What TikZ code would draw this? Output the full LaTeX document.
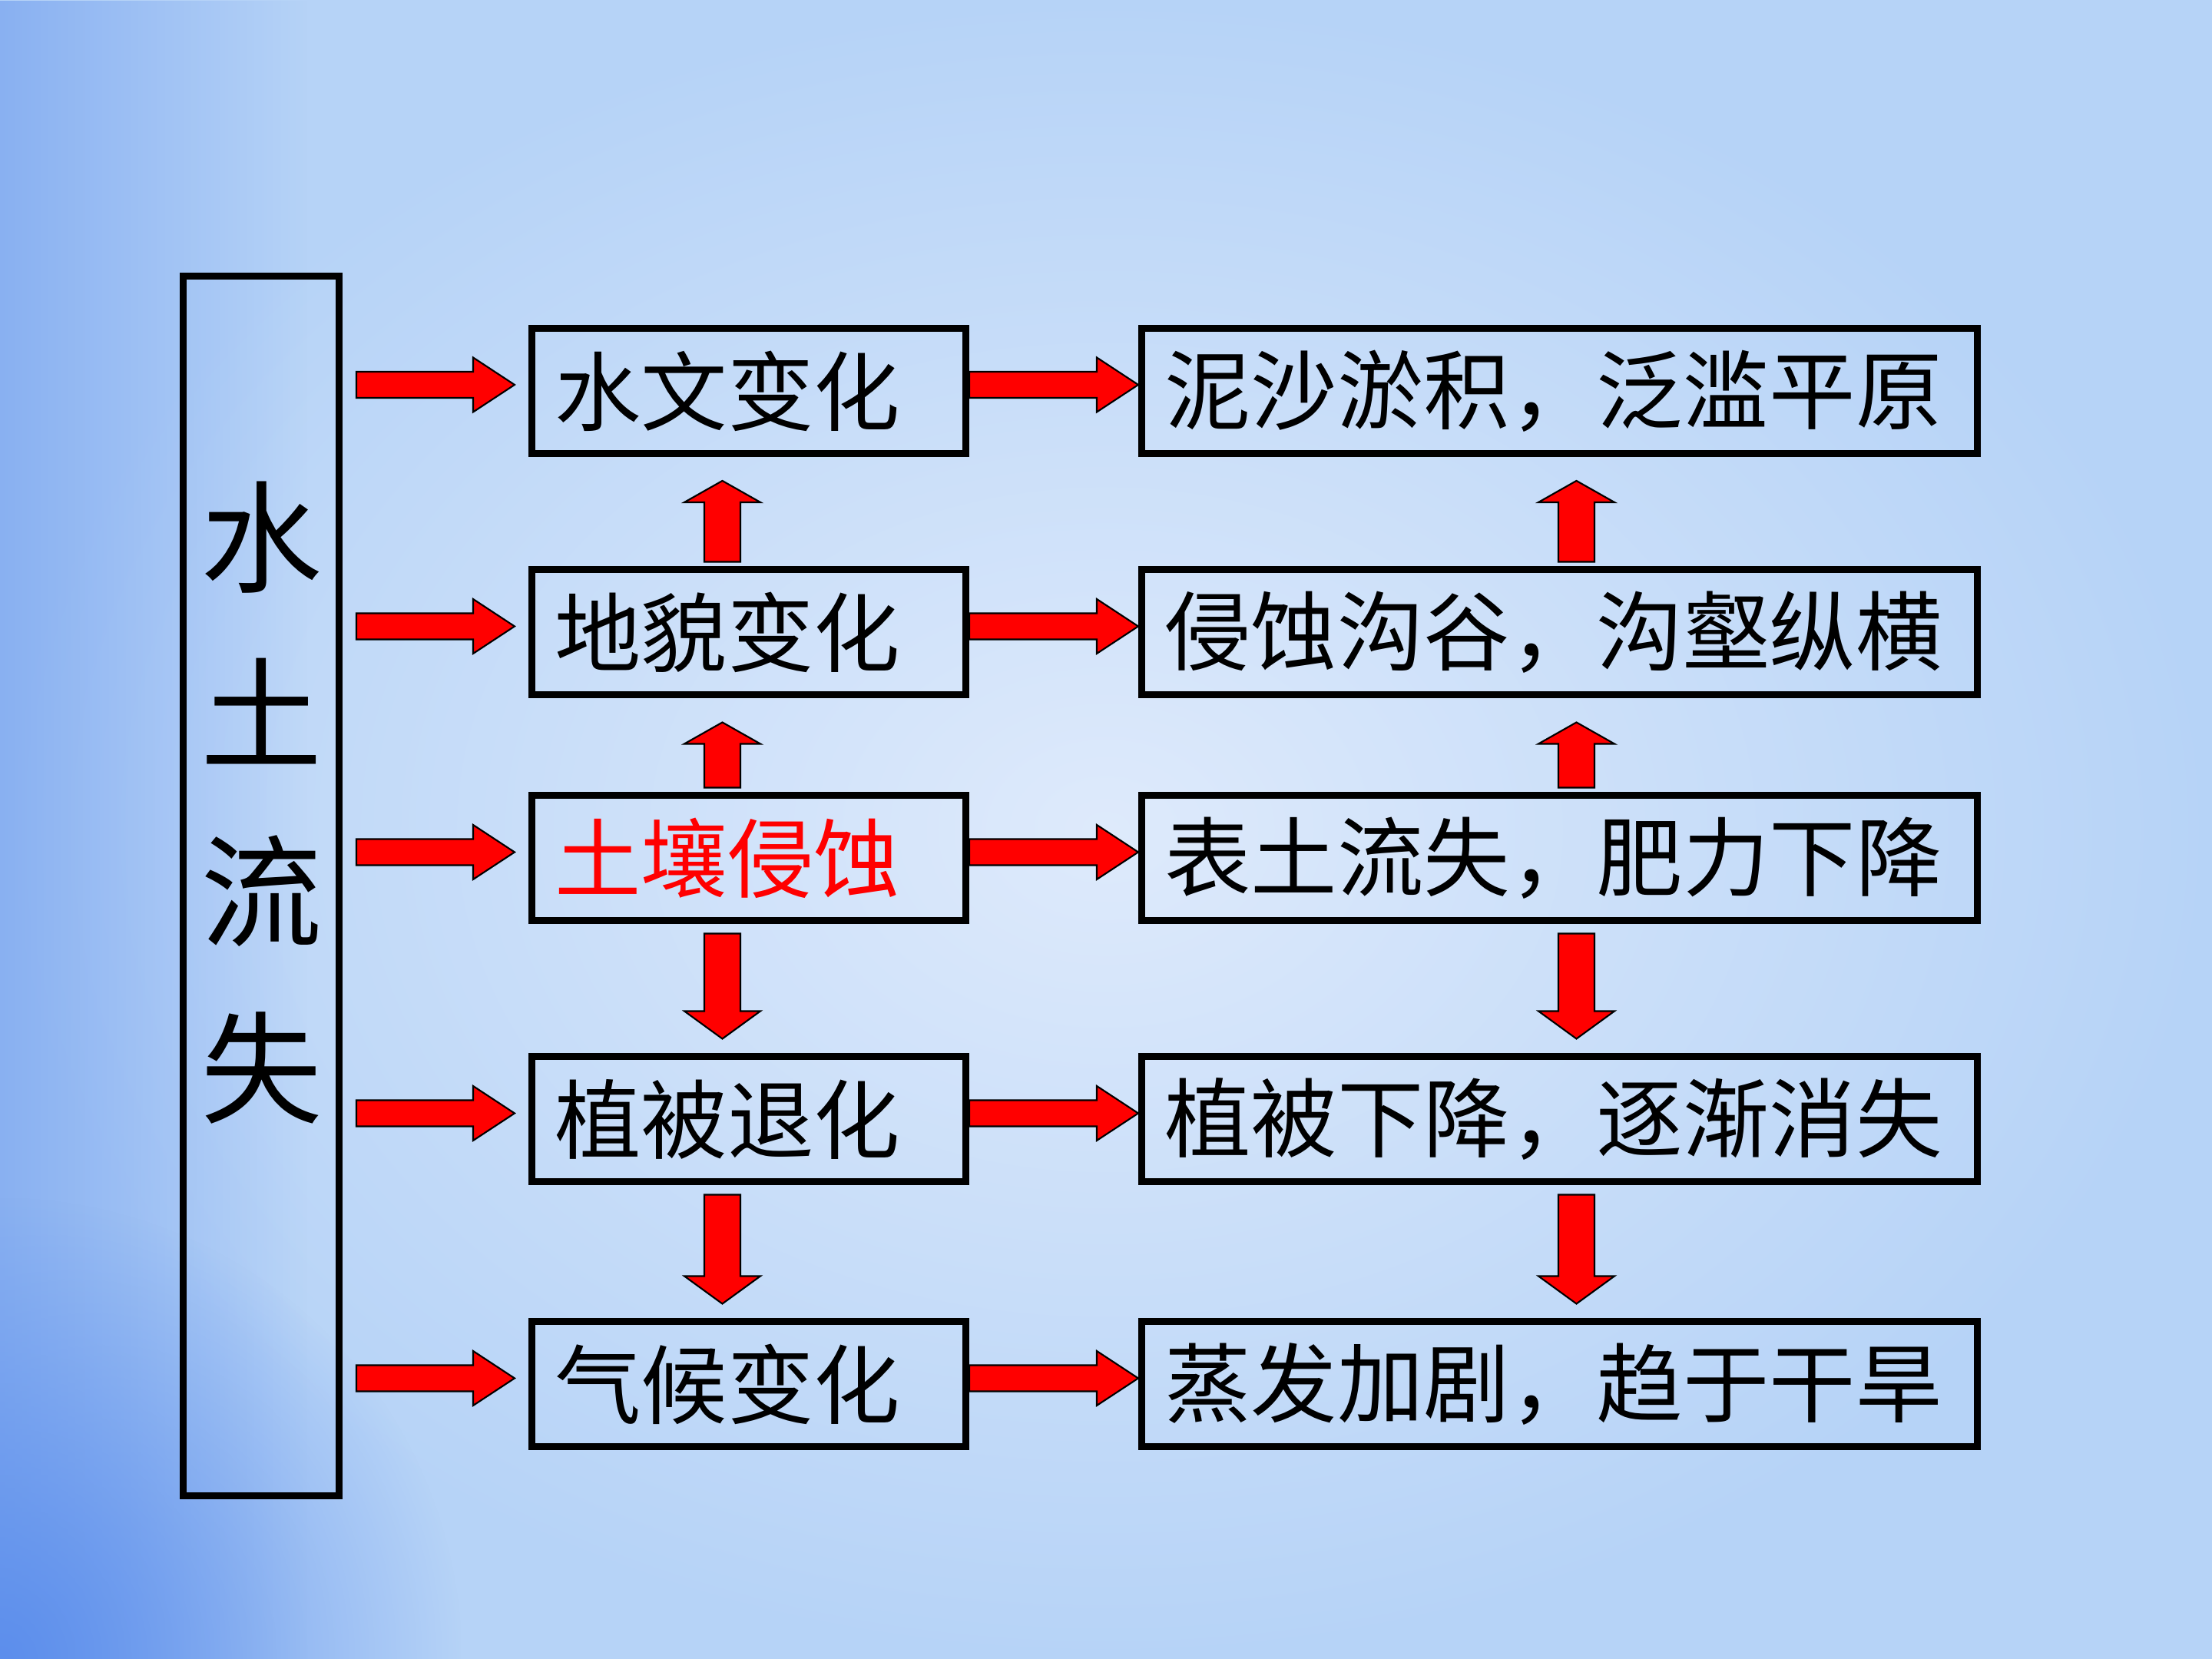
\documentclass[tikz,border=0pt]{standalone}
\usepackage{fontspec}
\newfontfamily\song{Noto Sans CJK SC}
\usetikzlibrary{calc,fadings}

\definecolor{bgin}{RGB}{222,234,251}
\definecolor{bgout}{RGB}{182,211,247}
\definecolor{bgedge}{RGB}{92,142,236}

\tikzfading[name=glow, inner color=transparent!0, outer color=transparent!100]

\tikzset{
  box/.style={draw, line width=0.09cm, minimum height=1.63cm, inner xsep=0.3cm,
    align=left, font=\song\fontsize{32}{38}\selectfont},
  midbox/.style={box, minimum width=5.65cm, text width=5.05cm},
  endbox/.style={box, minimum width=10.88cm, text width=10.28cm},
  fat/.style n args={3}{draw=black, line width=0.6pt, fill=red,
    to path={let \p1=(\tikztostart), \p2=(\tikztotarget),
      \n1={atan2(\y2-\y1,\x2-\x1)} in
      ($(\p1)+(\n1+90:#1)$) -- ($(\p2)+(\n1+180:#3)+(\n1+90:#1)$)
      -- ($(\p2)+(\n1+180:#3)+(\n1+90:#2)$) -- (\p2)
      -- ($(\p2)+(\n1+180:#3)+(\n1-90:#2)$)
      -- ($(\p2)+(\n1+180:#3)+(\n1-90:#1)$)
      -- ($(\p1)+(\n1-90:#1)$) -- cycle}},
  harrow/.style={fat={0.17cm}{0.355cm}{0.54cm}},
  uparrow/.style={fat={0.235cm}{0.495cm}{0.28cm}},
  dnarrow/.style={fat={0.235cm}{0.495cm}{0.36cm}},
}

\begin{document}
\begin{tikzpicture}
    \useasboundingbox (0,0) rectangle (28.8,21.6);

    % Fond
    \fill[inner color=bgin, outer color=bgout] (0,0) rectangle (28.8,21.6);
    \fill[bgedge, opacity=0.5, path fading=east] (0,0) rectangle (4,21.6);
    \fill[bgedge, path fading=glow, fit fading=true] (-6,-6) rectangle (6,6);

    % Cadre vertical
    \node[draw, line width=0.09cm, minimum width=2.03cm, minimum height=15.875cm] (src) at (3.40,10.0625) {};
    \node[font=\song\fontsize{45}{65.6}\selectfont, align=center] (srctxt) at (3.41,11.15) {水\\土\\流\\失};

    % Lignes
    \foreach \i/\y/\col/\cause/\effect in {
        1/16.51/black/水文变化/泥沙淤积，泛滥平原,
        2/13.365/black/地貌变化/侵蚀沟谷，沟壑纵横,
        3/10.425/red/土壤侵蚀/表土流失，肥力下降,
        4/7.025/black/植被退化/植被下降，逐渐消失,
        5/3.575/black/气候变化/蒸发加剧，趋于干旱} {
        \node[midbox, text=\col] (m\i) at (9.75,\y) {\cause};
        \node[endbox] (r\i) at (20.305,\y) {\effect};
        \draw[harrow] ($(m\i.west -| src.east)+(0.18,0.08)$) to ($(m\i.west)+(-0.18,0.08)$);
        \draw[harrow] ($(m\i.east)+(0,0.08)$) to ($(r\i.west)+(0,0.08)$);
    }

    % Fleches verticales
    \foreach \a/\b in {2/1,3/2} {
        \draw[uparrow] ($(m\a.north)+(-0.345,0.06)$) to ($(m\b.south)+(-0.345,-0.31)$);
        \draw[uparrow] ($(r\a.north)+(0.22,0.06)$) to ($(r\b.south)+(0.22,-0.31)$);
    }
    \foreach \a/\b in {3/4,4/5} {
        \draw[dnarrow] ($(m\a.south)+(-0.345,-0.12)$) to ($(m\b.north)+(-0.345,0.19)$);
        \draw[dnarrow] ($(r\a.south)+(0.22,-0.12)$) to ($(r\b.north)+(0.22,0.19)$);
    }
\end{tikzpicture}
\end{document}
